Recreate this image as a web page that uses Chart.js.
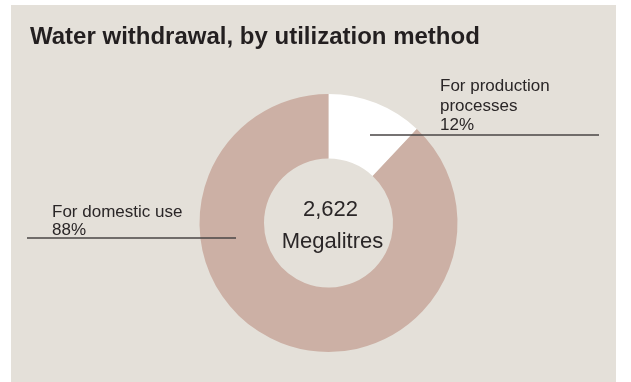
<!DOCTYPE html>
<html>
<head>
<meta charset="utf-8">
<script src="https://cdn.jsdelivr.net/npm/chart.js@4/dist/chart.umd.min.js"></script>
<style>
  html, body { margin: 0; padding: 0; background: #ffffff; }
  #wrap { position: relative; width: 631px; height: 382px; }
  #panel { position: absolute; left: 11px; top: 5px; width: 605px; height: 377px; background: #e4e0d9; }
  canvas { position: absolute; left: 0; top: 0; }
</style>
</head>
<body>
<div id="wrap">
  <div id="panel"></div>
  <canvas id="c" width="631" height="382"></canvas>
</div>
<script>
const title = "Water withdrawal, by utilization method";
const categories = ["For production processes", "For domestic use"];
const labelLines = [["For production", "processes"], ["For domestic use"]];
const values = [12, 88];
const totalValue = "2,622";
const totalUnit = "Megalitres";
const colors = ["#ffffff", "#ccb0a5"];

const FONT = "'Liberation Sans', Arial, Helvetica, sans-serif";
const TEXT = "#2a2627";

const overlay = {
  id: "overlay",
  afterDraw(chart) {
    const ctx = chart.ctx;
    const meta = chart.getDatasetMeta(0);
    const arc = meta.data[0];
    const cx = arc.x, cy = arc.y;
    ctx.save();
    // title
    ctx.fillStyle = "#231f20";
    ctx.font = "bold 24px " + FONT;
    ctx.textBaseline = "alphabetic";
    ctx.textAlign = "left";
    ctx.fillText(title, 30, 44);
    // center
    ctx.fillStyle = TEXT;
    ctx.font = "22px " + FONT;
    ctx.textAlign = "center";
    ctx.fillText(totalValue, cx + 2, 216);
    ctx.fillText(totalUnit, cx + 4, 248);
    // labels
    ctx.font = "17px " + FONT;
    ctx.textAlign = "left";
    // production
    const p = labelLines[0].concat([values[0] + "%"]);
    p.forEach((t, i) => ctx.fillText(t, 440, 91 + i * 19.5));
    // domestic
    const d = labelLines[1].concat([values[1] + "%"]);
    d.forEach((t, i) => ctx.fillText(t, 52, 217 + i * 18));
    // leader lines
    ctx.strokeStyle = "#4a4646";
    ctx.lineWidth = 1.4;
    ctx.beginPath();
    ctx.moveTo(370, 135); ctx.lineTo(599, 135);
    ctx.moveTo(27, 238); ctx.lineTo(236, 238);
    ctx.stroke();
    ctx.restore();
  }
};

new Chart(document.getElementById("c"), {
  type: "doughnut",
  data: {
    labels: categories,
    datasets: [{
      data: values,
      backgroundColor: colors,
      borderWidth: 0,
      hoverOffset: 0
    }]
  },
  options: {
    responsive: false,
    animation: false,
    cutout: "50%",
    layout: { padding: { top: 94, bottom: 30, left: 199.5, right: 173.5 } },
    plugins: {
      legend: { display: false },
      tooltip: { enabled: false },
      title: { display: false }
    }
  },
  plugins: [overlay]
});
</script>
</body>
</html>
